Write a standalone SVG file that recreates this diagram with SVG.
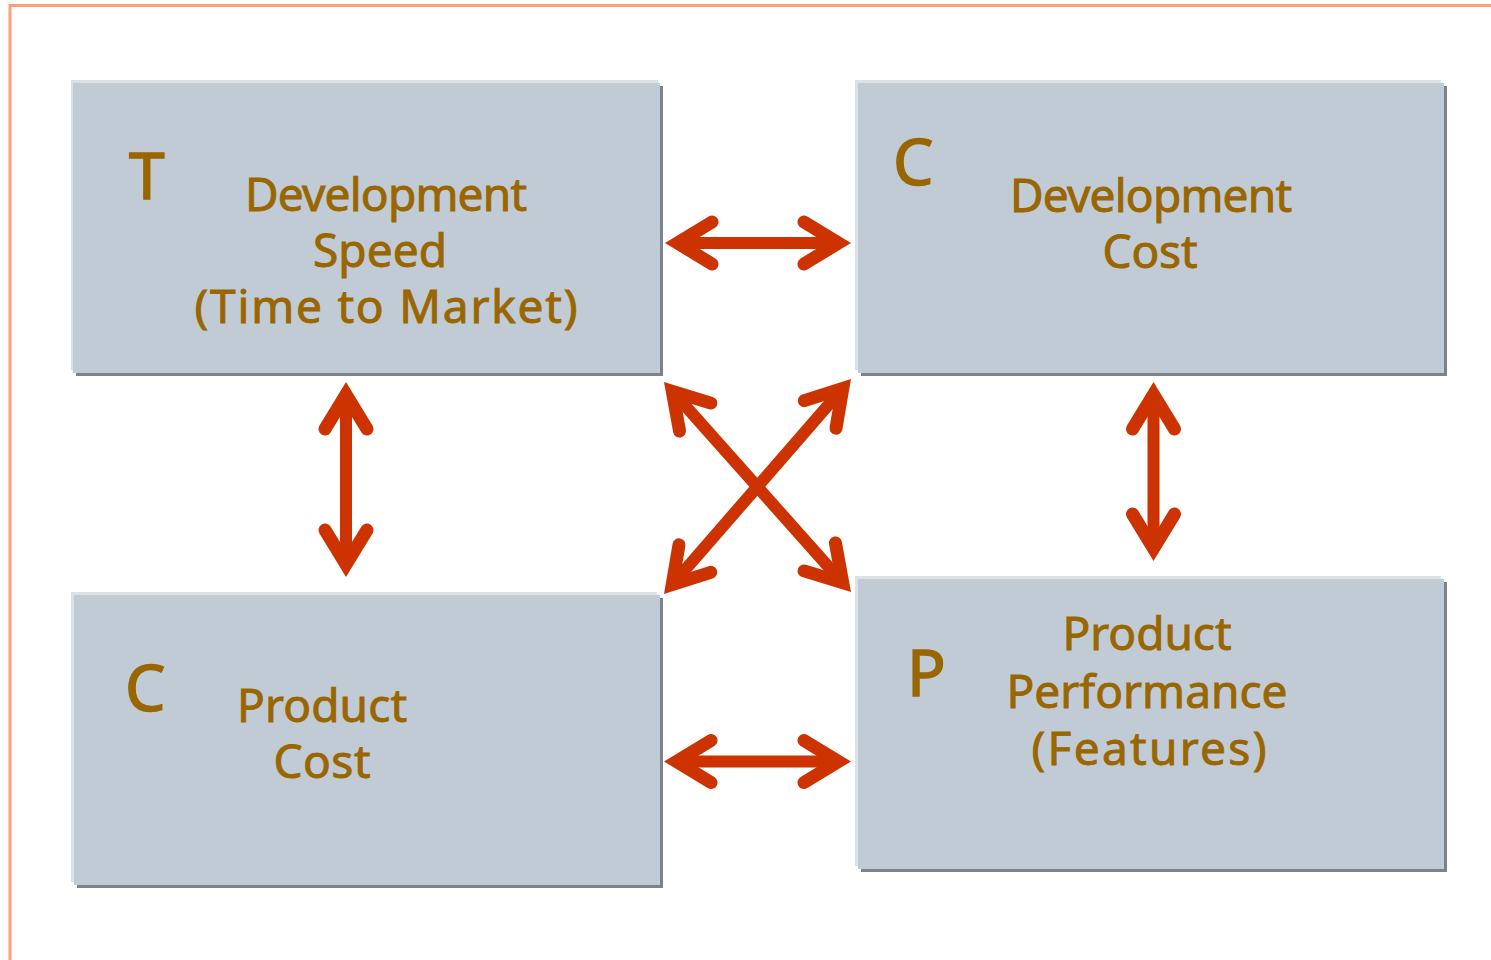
<svg xmlns="http://www.w3.org/2000/svg" width="1491" height="960" viewBox="0 0 1491 960">
<style>
.light{fill:#DCE1E8}
.dark{fill:#7D828A}
.fill{fill:#C1CBD6}
.t{font-family:"Comic Sans MS","Noto Sans","DejaVu Sans",sans-serif;fill:#996600;stroke:#996600;stroke-width:0.9;text-anchor:middle;font-size:46px}
.big{font-family:"Comic Sans MS","Noto Sans","DejaVu Sans",sans-serif;fill:#996600;stroke:#996600;stroke-width:1.5;font-size:64px}
.shaft{stroke:#CC3300;stroke-width:12;fill:none;marker-start:url(#ah);marker-end:url(#ah)}
</style>
<defs>
<marker id="ah" markerUnits="userSpaceOnUse" markerWidth="80" markerHeight="80" refX="0" refY="0" orient="auto-start-reverse" overflow="visible">
<path d="M-34.5,-21 L0,0 L-34.5,21" fill="none" stroke="#CC3300" stroke-width="13" stroke-linecap="round" stroke-linejoin="miter" stroke-miterlimit="10"/>
</marker>
</defs>
<rect width="1491" height="960" fill="#FFFFFF"/>
<path d="M10,960 V5.5 H1491" fill="none" stroke="#FF9F73" stroke-width="3"/>

<g id="node-speed">
<rect class="light" x="71" y="80" width="587" height="290"/>
<rect class="dark" x="76" y="86" width="587" height="290"/>
<rect class="fill" x="73" y="83" width="587" height="290"/>
<text class="big" x="129" y="199" textLength="40">T</text>
<text class="t" x="386" y="211" textLength="282">Development</text>
<text class="t" x="380" y="267" textLength="134">Speed</text>
<text class="t" x="386" y="323" textLength="383">(Time to Market)</text>
</g>

<g id="node-devcost">
<rect class="light" x="855" y="80" width="586" height="290"/>
<rect class="dark" x="861" y="86" width="586" height="290"/>
<rect class="fill" x="858" y="83" width="586" height="290"/>
<text class="big" x="893" y="185">C</text>
<text class="t" x="1151" y="212" textLength="282">Development</text>
<text class="t" x="1150" y="268" textLength="95">Cost</text>
</g>

<g id="node-prodcost">
<rect class="light" x="71" y="592" width="586" height="290"/>
<rect class="dark" x="77" y="598" width="586" height="290"/>
<rect class="fill" x="74" y="595" width="586" height="290"/>
<text class="big" x="125" y="711">C</text>
<text class="t" x="322" y="722" textLength="170">Product</text>
<text class="t" x="322" y="778" textLength="97">Cost</text>
</g>

<g id="node-performance">
<rect class="light" x="855" y="576" width="586" height="290"/>
<rect class="dark" x="861" y="582" width="586" height="290"/>
<rect class="fill" x="858" y="579" width="586" height="290"/>
<text class="big" x="907" y="696">P</text>
<text class="t" x="1147" y="650" textLength="169">Product</text>
<text class="t" x="1147" y="708" textLength="281">Performance</text>
<text class="t" x="1149" y="765" textLength="235">(Features)</text>
</g>

<g id="connectors">
<line class="shaft" x1="677.5" y1="243" x2="838.5" y2="243"/>
<line class="shaft" x1="676.5" y1="761.5" x2="838.5" y2="761.5"/>
<line class="shaft" x1="346" y1="394.5" x2="346" y2="564.5"/>
<line class="shaft" x1="1153.5" y1="394.5" x2="1153.5" y2="548.5"/>
<line class="shaft" x1="672.3" y1="391.3" x2="842.7" y2="582.7"/>
<line class="shaft" x1="842.8" y1="388.4" x2="672.2" y2="584.6"/>
</g>
</svg>
